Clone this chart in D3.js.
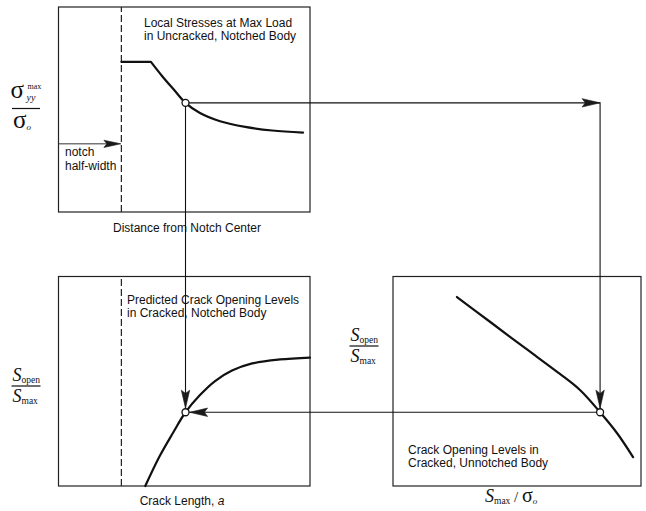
<!DOCTYPE html>
<html><head><meta charset="utf-8">
<script src="https://cdn.jsdelivr.net/npm/d3@7"></script>
<style>
html,body{margin:0;padding:0;background:#fff;}
svg{display:block;}
</style></head><body>
<svg id="chart" width="646" height="511"></svg>
<script>
// Local peak stress ahead of the notch, uncracked body (top-left panel)
const distance   = [1.00, 1.47, 1.65, 1.84, 2.02, 2.25, 2.57, 2.97, 3.40, 3.89];
const peakStress = [2.93, 2.93, 2.65, 2.38, 2.13, 1.93, 1.77, 1.66, 1.59, 1.55];
const notchHalfWidth = 1.0;

// Predicted crack opening levels, cracked notched body (bottom-left panel)
const crackLength = [1.38, 1.61, 1.82, 2.02, 2.25, 2.49, 2.76, 3.08, 3.52, 4.00];
const openNotched = [0.000, 0.143, 0.253, 0.352, 0.434, 0.501, 0.551, 0.585, 0.604, 0.613];

// Crack opening levels, cracked unnotched body (bottom-right panel)
const maxStressRatio = [0.258, 0.391, 0.532, 0.673, 0.754, 0.835, 0.903, 0.968];
const openUnnotched  = [0.902, 0.784, 0.659, 0.535, 0.458, 0.352, 0.253, 0.138];

// Operating point traced through the three panels
const opDistance = 2.02, opStress = 2.13, opRatio = 0.835, opOpen = 0.352;
const notchArrowStress = 1.33;

const svg = d3.select("#chart");
const ink = "#111";

// Scales (the two left panels share the distance axis, the two lower panels share S_open/S_max)
const xDist   = d3.scaleLinear().domain([0, 4]).range([58.5, 310]);
const yStress = d3.scaleLinear().domain([0, 4]).range([212, 7]);
const yOpen   = d3.scaleLinear().domain([0, 1]).range([486, 276.5]);
const xRatio  = d3.scaleLinear().domain([0, 1]).range([393, 641]);

function frame(xs, ys) {
  const [x0, x1] = xs.range(), [y0, y1] = ys.range();
  svg.append("rect")
    .attr("x", Math.min(x0, x1)).attr("y", Math.min(y0, y1))
    .attr("width", Math.abs(x1 - x0)).attr("height", Math.abs(y1 - y0))
    .attr("fill", "none").attr("stroke", "#222").attr("stroke-width", 1.2);
}
frame(xDist, yStress);
frame(xDist, yOpen);
frame(xRatio, yOpen);

// Notch boundary (dashed)
[yStress, yOpen].forEach(ys => {
  svg.append("line")
    .attr("x1", xDist(notchHalfWidth)).attr("x2", xDist(notchHalfWidth))
    .attr("y1", ys.range()[0]).attr("y2", ys.range()[1])
    .attr("stroke", "#222").attr("stroke-width", 1.2)
    .attr("stroke-dasharray", "7,3");
});

// Curves
const curveStyle = sel => sel.attr("fill", "none").attr("stroke", ink)
  .attr("stroke-width", 2.2).attr("stroke-linejoin", "round").attr("stroke-linecap", "round");
const smooth = d3.curveCatmullRom.alpha(0.5);

// plateau at the notch root, then the smooth decay (sharp corner between them)
const plateau = d3.line().x((d, i) => xDist(distance[i])).y(d => yStress(d));
const decay = d3.line().curve(smooth).x(d => xDist(d[0])).y(d => yStress(d[1]));
const decayPts = distance.map((d, i) => [d, peakStress[i]]).slice(1);
svg.append("path")
  .attr("d", plateau(peakStress.slice(0, 2)) + "L" + decay(decayPts).slice(1))
  .call(curveStyle);

const notchedLine = d3.line().curve(smooth)
  .x((d, i) => xDist(crackLength[i])).y(d => yOpen(d));
svg.append("path").attr("d", notchedLine(openNotched)).call(curveStyle);

const unnotchedLine = d3.line().curve(smooth)
  .x((d, i) => xRatio(maxStressRatio[i])).y(d => yOpen(d));
svg.append("path").attr("d", unnotchedLine(openUnnotched)).call(curveStyle);

// Operating points
const r = 3.5;
const A = [xDist(opDistance), yStress(opStress)];
const B = [xDist(opDistance), yOpen(opOpen)];
const C = [xRatio(opRatio), yOpen(opOpen)];

// Connector lines
const conn = sel => sel.attr("fill", "none").attr("stroke", ink).attr("stroke-width", 1.1);
svg.append("path").attr("d", d3.line()([A, [C[0], A[1]], [C[0], C[1] - r]])).call(conn);
svg.append("path").attr("d", d3.line()([A, [B[0], B[1] - r]])).call(conn);
svg.append("path").attr("d", d3.line()([C, [B[0] + r, B[1]]])).call(conn);

function arrowHead(tip, dir, len, half) {
  const [dx, dy] = dir, px = -dy, py = dx;
  const back = [tip[0] - dx * len, tip[1] - dy * len];
  const notch = [tip[0] - dx * len * 0.82, tip[1] - dy * len * 0.82];
  svg.append("path")
    .attr("d", d3.line()([tip,
      [back[0] + px * half, back[1] + py * half],
      notch,
      [back[0] - px * half, back[1] - py * half]]) + "Z")
    .attr("fill", "#1a1a1a").attr("stroke", "#1a1a1a").attr("stroke-width", 0.6);
}
arrowHead([C[0], A[1]], [1, 0], 18, 4.2);
arrowHead([C[0], C[1] - r - 0.6], [0, 1], 18, 4.2);
arrowHead([B[0], B[1] - r - 0.6], [0, 1], 18, 4.2);
arrowHead([B[0] + r + 0.6, B[1]], [-1, 0], 18, 4.2);

// Notch half-width arrow
const yN = yStress(notchArrowStress);
svg.append("line")
  .attr("x1", xDist.range()[0]).attr("x2", xDist(notchHalfWidth) - 10)
  .attr("y1", yN).attr("y2", yN)
  .attr("stroke", "#333").attr("stroke-width", 1);
arrowHead([xDist(notchHalfWidth) - 0.5, yN], [1, 0], 17, 3.6);

[A, B, C].forEach(p => {
  svg.append("circle").attr("cx", p[0]).attr("cy", p[1]).attr("r", r)
    .attr("fill", "#fff").attr("stroke", ink).attr("stroke-width", 1.3);
});

// Text
const sans = "'Liberation Sans', Arial, Helvetica, sans-serif";
const serif = "'Liberation Serif', 'Times New Roman', serif";
function label(x, y, lines, pitch, anchor) {
  const t = svg.append("text").attr("x", x).attr("y", y)
    .attr("font-family", sans).attr("font-size", 12).attr("fill", ink)
    .attr("text-anchor", anchor || "start");
  lines.forEach((s, i) => t.append("tspan").attr("x", x).attr("dy", i ? pitch : 0).text(s));
  return t;
}
label(144, 26.5, ["Local Stresses at Max Load", "in Uncracked, Notched Body"], 13.5);
label(65, 156, ["notch", "half-width"], 13.5);
label(187, 232, ["Distance from Notch Center"], 0, "middle");
label(127, 303.5, ["Predicted Crack Opening Levels", "in Cracked, Notched Body"], 13.5);
label(408, 453.5, ["Crack Opening Levels in", "Cracked, Unnotched Body"], 13.5);

const xl = svg.append("text").attr("x", 182).attr("y", 505)
  .attr("font-family", sans).attr("font-size", 12).attr("fill", ink)
  .attr("text-anchor", "middle");
xl.append("tspan").text("Crack Length, ");
xl.append("tspan").attr("font-style", "italic").text("a");

// Serif math labels
function part(t, s, opts) {
  const ts = t.append("tspan").text(s);
  Object.entries(opts || {}).forEach(([k, v]) => ts.attr(k, v));
  return ts;
}
function mathText(x, y, size) {
  return svg.append("text").attr("x", x).attr("y", y)
    .attr("font-family", serif).attr("font-size", size).attr("fill", ink);
}
function fracBar(x1, x2, y) {
  svg.append("line").attr("x1", x1).attr("x2", x2).attr("y1", y).attr("y2", y)
    .attr("stroke", ink).attr("stroke-width", 1.2);
}

// sigma_yy^max / sigma_o
let t = mathText(10.5, 98, 25);
part(t, "σ");
svg.append("text").attr("x", 27.5).attr("y", 88.5).attr("font-family", serif)
  .attr("font-size", 8).attr("fill", ink).text("max");
svg.append("text").attr("x", 26.5).attr("y", 100.5).attr("font-family", serif)
  .attr("font-size", 10).attr("font-style", "italic").attr("fill", ink).text("yy");
fracBar(12, 40, 108.5);
t = mathText(13, 128, 25);
part(t, "σ");
part(t, "o", {"font-size": 9, "font-style": "italic", "dy": 1.5});

// S_open / S_max (two panels)
function sRatio(x, yTop) {
  let a = mathText(x, yTop, 18);
  part(a, "S", {"font-style": "italic"});
  part(a, "open", {"font-size": 9.5, "dy": 2});
  fracBar(x - 1, x + 28, yTop + 5);
  let b = mathText(x, yTop + 21, 18);
  part(b, "S", {"font-style": "italic"});
  part(b, "max", {"font-size": 9.5, "dy": 2});
}
sRatio(12.5, 381);
sRatio(350.5, 341);

// S_max / sigma_o
t = mathText(485, 502, 18);
part(t, "S", {"font-style": "italic"});
part(t, "max", {"font-size": 9.5, "dy": 2});
part(t, " / ", {"font-size": 15, "dy": -2});
part(t, "σ", {"font-size": 20});
part(t, "o", {"font-size": 9, "font-style": "italic", "dy": 2});
</script>
</body></html>
